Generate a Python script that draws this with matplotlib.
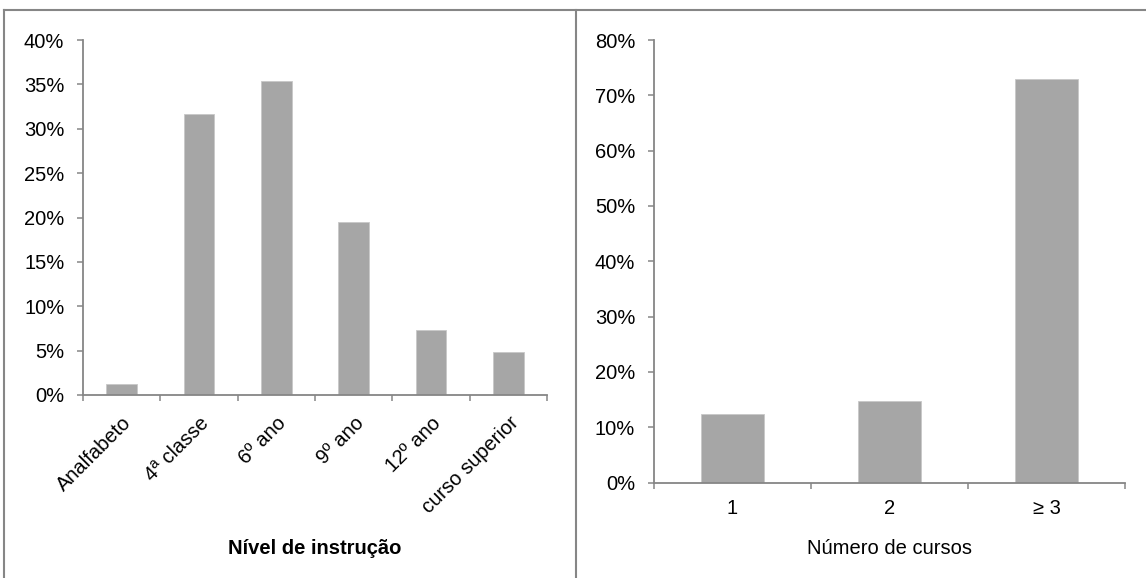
import matplotlib
matplotlib.use("Agg")
import matplotlib.pyplot as plt
from matplotlib.lines import Line2D
from matplotlib.transforms import ScaledTranslation
from matplotlib.ticker import PercentFormatter, MultipleLocator

plt.rcParams['font.family'] = ['Liberation Sans', 'DejaVu Sans']

# Education level distribution (%)
niveis = ['Analfabeto', '4ª classe', '6º ano', '9º ano', '12º ano', 'curso superior']
pct_niveis = [1.2, 31.7, 35.4, 19.5, 7.3, 4.9]

# Number of courses attended (%)
cursos = ['1', '2', '≥ 3']
pct_cursos = [12.3, 14.8, 72.9]

bar_color = '#a6a6a6'
axis_color = '#868686'
fs = 14.5

W, H = 1146, 578
fig = plt.figure(figsize=(W / 100, H / 100), dpi=100)


def style_axes(ax):
    for side in ['top', 'right']:
        ax.spines[side].set_visible(False)
    for side in ['left', 'bottom']:
        ax.spines[side].set_color(axis_color)
        ax.spines[side].set_linewidth(1.3)
    ax.tick_params(axis='both', which='both', colors=axis_color, labelcolor='black',
                   labelsize=fs, length=4.5, width=1.1)
    ax.tick_params(axis='y', pad=9)
    ax.yaxis.set_major_formatter(PercentFormatter(xmax=100, decimals=0))


# left panel: education level
ax1 = fig.add_axes([83 / W, (H - 395) / H, (547 - 83) / W, (395 - 40) / H])
ax1.bar(range(len(niveis)), pct_niveis, width=0.4, color=bar_color,
        edgecolor='#c8c8c8', linewidth=0.6)
ax1.set_xlim(-0.5, len(niveis) - 0.5)
ax1.set_ylim(0, 40)
ax1.yaxis.set_major_locator(MultipleLocator(5))
ax1.set_xticks([i - 0.5 for i in range(len(niveis) + 1)])
ax1.set_xticklabels([])
ax1.set_xticks(range(len(niveis)), minor=True)
ax1.set_xticklabels(niveis, minor=True, rotation=45, ha='right',
                    rotation_mode='anchor', va='center')
style_axes(ax1)
ax1.tick_params(axis='x', which='minor', length=0, pad=18)
# nudge the slanted labels a little to the right of the category centre
shift = ScaledTranslation(7 / 100, 0, fig.dpi_scale_trans)
for lbl in ax1.get_xticklabels(minor=True):
    lbl.set_transform(lbl.get_transform() + shift)
ax1.set_xlabel('Nível de instrução', fontsize=fs, fontweight='bold', va='center')
ax1.xaxis.set_label_coords(0.5, (395 - 549) / 355)

# right panel: number of courses
ax2 = fig.add_axes([654 / W, (H - 482.5) / H, (1125 - 654) / W, (482.5 - 40) / H])
ax2.bar(range(len(cursos)), pct_cursos, width=0.4, color=bar_color,
        edgecolor='#c8c8c8', linewidth=0.6)
ax2.set_xlim(-0.5, len(cursos) - 0.5)
ax2.set_ylim(0, 80)
ax2.yaxis.set_major_locator(MultipleLocator(10))
ax2.set_xticks([i - 0.5 for i in range(len(cursos) + 1)])
ax2.set_xticklabels([])
ax2.set_xticks(range(len(cursos)), minor=True)
ax2.set_xticklabels(cursos, minor=True)
style_axes(ax2)
ax2.tick_params(axis='x', which='minor', length=0, pad=12)
ax2.set_xlabel('Número de cursos', fontsize=fs, va='center')
ax2.xaxis.set_label_coords(0.5, (482.5 - 549) / 442.5)

# frame lines around the two panels
frame_kw = dict(color=axis_color, linewidth=1.5, transform=None)
fig.add_artist(Line2D([4, W], [H - 9.5, H - 9.5], **frame_kw))
fig.add_artist(Line2D([4, 4], [0, H - 9.5], **frame_kw))
fig.add_artist(Line2D([576, 576], [0, H - 9.5], **frame_kw))

fig.savefig('out.png', dpi=100)
